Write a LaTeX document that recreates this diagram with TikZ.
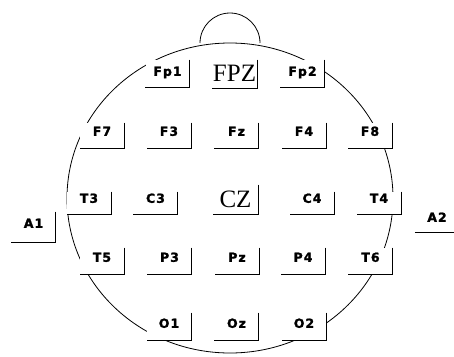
\documentclass[tikz,border=0pt]{standalone}
\usepackage{fontspec}
\newfontfamily\labfont[LetterSpace=8, FakeBold=1.5]{DejaVu Sans Bold}
\newfontfamily\bigfont{Liberation Serif}
\begin{document}
\begin{tikzpicture}[x=1pt,y=-1pt,
  every node/.style={inner xsep=0pt, inner ysep=0pt, fill=white, anchor=south},
  elec/.style={font=\labfont\fontsize{12.5}{14}\selectfont, minimum width=44pt},
  bigel/.style={font=\bigfont\fontsize{25}{28}\selectfont, minimum width=45pt},
  rowp/.style={text height=16pt, text depth=11pt},
  rowf/.style={text height=13pt, text depth=12pt},
  rowc/.style={text height=11pt, text depth=11pt},
  rowt/.style={text height=14pt, text depth=12pt},
  rowo/.style={text height=15pt, text depth=12pt},
  bracket/.style={line width=0.9pt, black},
  head/.style={line width=0.8pt, black}]
\fill[white] (0,0) rectangle (454,356);
\useasboundingbox (0,0) rectangle (454,356);
% head and nose
\draw[head] (230,198) ellipse [x radius=163, y radius=155];
\draw[head] (200,43) arc[start angle=180, end angle=360, radius=30];
% Fp row
\node[elec,rowp] (Fp1) at (167.5,87) {Fp1};
\node[bigel,text height=22pt,text depth=6pt] (FPZ) at (234.5,88) {FPZ};
\node[elec,rowp] (Fp2) at (302.5,87) {Fp2};
% F row
\node[elec,rowf] (F7) at (102,148) {F7};
\node[elec,rowf] (F3) at (169,148) {F3};
\node[elec,rowf] (Fz) at (236.5,148) {Fz};
\node[elec,rowf] (F4) at (304,148) {F4};
\node[elec,rowf] (F8) at (370,148) {F8};
% C row
\node[elec,rowc] (T3) at (89,214) {T3};
\node[elec,rowc] (C3) at (155.5,214) {C3};
\node[bigel,text height=23pt,text depth=6pt] (CZ) at (235.5,214) {CZ};
\node[elec,rowc] (C4) at (312,214) {C4};
\node[elec,rowc] (T4) at (379,214) {T4};
% ears
\node[elec,text height=16pt,text depth=14pt] (A1) at (33.5,242) {A1};
\node[elec,text height=16pt,text depth=10pt] (A2) at (437,232) {A2};
\coordinate (rightedge) at (454,232);
% P row
\node[elec,rowt] (T5) at (102,274) {T5};
\node[elec,rowt] (P3) at (169.5,274) {P3};
\node[elec,rowt] (Pz) at (237,274) {Pz};
\node[elec,rowt] (P4) at (303,274) {P4};
\node[elec,rowt] (T6) at (370.5,274) {T6};
% O row
\node[elec,rowo] (O1) at (169,340) {O1};
\node[elec,rowo] (Oz) at (236.5,340) {Oz};
\node[elec,rowo] (O2) at (304,340) {O2};
% brackets
\foreach \n in {Fp1,FPZ,Fp2,F7,F3,Fz,F4,F8,T3,C3,CZ,C4,T4,A1,T5,P3,Pz,P4,T6,O1,Oz,O2}
  \draw[bracket] (\n.north east) -- (\n.south east) -- (\n.south west);
\draw[bracket] (A2.south west) -- (rightedge);
\end{tikzpicture}
\end{document}
